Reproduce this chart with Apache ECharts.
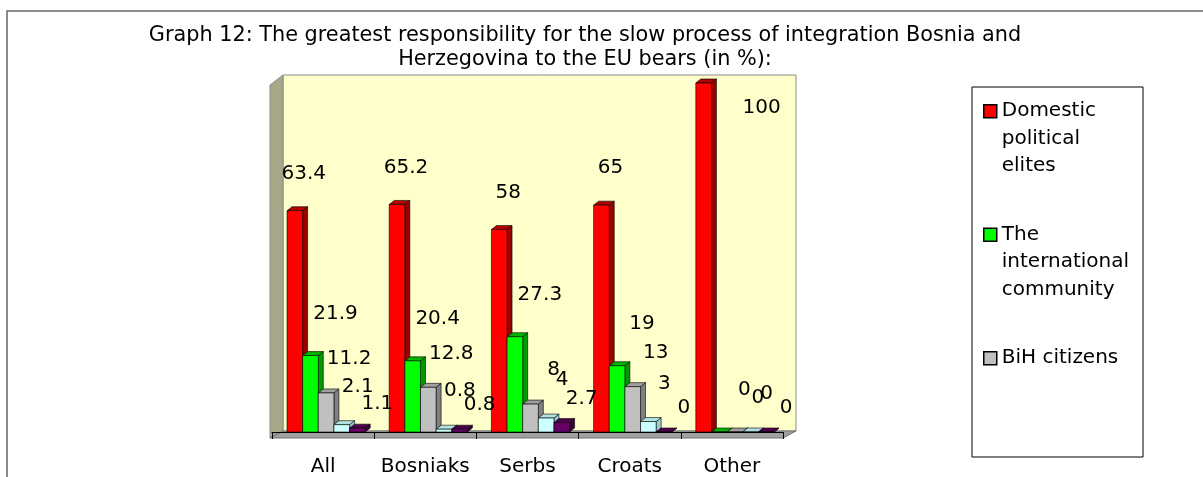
<!DOCTYPE html>
<html>
<head>
<meta charset="utf-8">
<script src="https://cdn.jsdelivr.net/npm/echarts@6/dist/echarts.min.js"></script>
<style>
  html, body { margin: 0; padding: 0; background: #fff; }
  #chart { width: 1203px; height: 477px; }
</style>
</head>
<body>
<div id="chart"></div>
<script>
// data (in %)
const categories = ['All', 'Bosniaks', 'Serbs', 'Croats', 'Other'];
const seriesNames = ['Domestic political elites', 'The international community', 'BiH citizens', 'Others', 'Do not know'];
const domesticElites = [63.4, 65.2, 58, 65, 100];
const internationalCommunity = [21.9, 20.4, 27.3, 19, 0];
const bihCitizens = [11.2, 12.8, 8, 13, 0];
const otherAnswers = [2.1, 0.8, 4, 3, 0];
const noAnswer = [1.1, 0.8, 2.7, 0, 0];

const allValues = [domesticElites, internationalCommunity, bihCitizens, otherAnswers, noAnswer];

// wrapped legend text; blank lines keep the first line level with the icon
const legendText = {
  'Domestic political elites': '\n\nDomestic\npolitical\nelites',
  'The international community': '\n\nThe\ninternational\ncommunity',
  'BiH citizens': '\n\nBiH citizens\n\n'
};

const FONT = '"DejaVu Sans", sans-serif';

// Excel-like 3D column colours
const FRONT = ['#ff0000', '#00ff00', '#c0c0c0', '#ccffff', '#660066'];
const SIDE  = ['#990000', '#009900', '#808080', '#99cccc', '#330033'];
const TOP   = ['#b30000', '#00b300', '#a0a0a0', '#b3e0e0', '#4d004d'];

const DEPTH_X = 5, DEPTH_Y = 4;
const LABEL_DX = [9, 25, 23, 16, 20];
const LABEL_DY = [37, 42, 34, 38, 24];

// grid box
const G = { left: 272, top: 83, width: 511, height: 354 };

// ── bar geometry shared by bars and labels ──────────────────────────
function barBox(api, cat, val, s) {
  const base = api.coord([cat, 0]);
  const top = api.coord([cat, val]);
  const band = api.size([1, 0])[0];
  const w = band * 0.153;
  const x0 = base[0] - 2.5 * w + s * w + 3;
  return { x0, w, top: top[1], base: base[1] };
}

function makeBarSeries(s) {
  return {
    type: 'custom',
    name: seriesNames[s],
    itemStyle: { color: FRONT[s] },
    clip: false,
    z: 2,
    data: allValues[s].map((v, i) => [i, v]),
    encode: { x: 0, y: 1 },
    renderItem(params, api) {
      const b = barBox(api, api.value(0), api.value(1), s);
      const xr = b.x0 + b.w;
      const stroke = { stroke: '#000', lineWidth: 0.6 };
      return {
        type: 'group',
        children: [
          {
            type: 'polygon',
            shape: { points: [[xr, b.top], [xr + DEPTH_X, b.top - DEPTH_Y], [xr + DEPTH_X, b.base - DEPTH_Y], [xr, b.base]] },
            style: Object.assign({ fill: SIDE[s] }, stroke)
          },
          {
            type: 'polygon',
            shape: { points: [[b.x0, b.top], [b.x0 + DEPTH_X, b.top - DEPTH_Y], [xr + DEPTH_X, b.top - DEPTH_Y], [xr, b.top]] },
            style: Object.assign({ fill: TOP[s] }, stroke)
          },
          {
            type: 'rect',
            shape: { x: b.x0, y: b.top, width: b.w, height: b.base - b.top },
            style: Object.assign({ fill: FRONT[s] }, stroke)
          }
        ]
      };
    }
  };
}

// labels sit above all bars, so they get their own series
const labelData = [];
allValues.forEach((arr, s) => arr.forEach((v, i) => labelData.push([i, v, s])));

const labelSeries = {
  type: 'custom',
  name: 'labels',
  clip: false,
  z: 10,
  silent: true,
  data: labelData,
  encode: { x: 0, y: 1 },
  renderItem(params, api) {
    const s = api.value(2);
    const v = api.value(1);
    const b = barBox(api, api.value(0), v, s);
    let x = b.x0 + b.w / 2 + LABEL_DX[s];
    let y = b.top - LABEL_DY[s];
    // Excel pushes labels that would leave the plot down beside the column
    if (y < 100) { y = b.top + 25; x += 49; }
    return {
      type: 'text',
      style: {
        text: String(v), x, y,
        font: '20px ' + FONT,
        fill: '#000',
        align: 'center', verticalAlign: 'middle',
        textAlign: 'center', textVerticalAlign: 'middle'
      }
    };
  }
};

// ── walls, floor, frames ────────────────────────────────────────────
const wallL = 283, wallR = 796, wallT = 75, floorBack = 431, floorFront = 438, sideL = 270;

const graphics = [
  { type: 'rect', shape: { x: 7, y: 11, width: 1240, height: 520 }, style: { fill: 'none', stroke: '#666', lineWidth: 1.5 }, z: -10 },
  { type: 'rect', shape: { x: wallL, y: wallT, width: wallR - wallL, height: floorBack - wallT }, style: { fill: '#ffffcc', stroke: '#8c8c8c', lineWidth: 1 }, z: -5 },
  { type: 'polygon', shape: { points: [[sideL, wallT + 10], [wallL, wallT], [wallL, floorBack], [sideL, floorFront]] }, style: { fill: '#a8a888', stroke: '#8c8c8c', lineWidth: 1 }, z: -5 },
  { type: 'polygon', shape: { points: [[sideL, floorFront], [wallL, floorBack], [wallR, floorBack], [wallR - 13, floorFront]] }, style: { fill: '#a0a0a0', stroke: '#707070', lineWidth: 1 }, z: -5 },
  { type: 'rect', shape: { x: 972, y: 87, width: 171, height: 370 }, style: { fill: '#fff', stroke: '#000', lineWidth: 1 }, z: -5 },
  {
    type: 'text', x: 585, y: 24, z: 5,
    style: {
      text: 'Graph 12: The greatest responsibility for the slow process of integration Bosnia and\nHerzegovina to the EU bears (in %):',
      font: '20.8px ' + FONT, lineHeight: 24, fill: '#000',
      align: 'center', verticalAlign: 'top',
      textAlign: 'center', textVerticalAlign: 'top'
    }
  }
];

const chart = echarts.init(document.getElementById('chart'), null, { renderer: 'canvas' });

chart.setOption({
  backgroundColor: '#fff',
  animation: false,
  graphic: { elements: graphics },
  grid: { left: G.left, top: G.top, width: G.width, height: G.height, containLabel: false },
  xAxis: {
    type: 'category',
    data: categories,
    offset: 3,
    axisLine: { show: true, lineStyle: { color: '#000', width: 1 } },
    axisTick: { show: true, interval: 0, length: 7, lineStyle: { color: '#000' } },
    axisLabel: { interval: 0, fontSize: 20, fontFamily: FONT, color: '#000', margin: 22 },
    splitLine: { show: false }
  },
  yAxis: { type: 'value', min: 0, max: 100, show: false },
  legend: {
    orient: 'vertical',
    left: 983,
    top: 42.5,
    padding: 0,
    itemWidth: 13,
    itemHeight: 13,
    itemGap: -14,
    icon: 'rect',
    selectedMode: false,
    itemStyle: { borderColor: '#000', borderWidth: 1.5 },
    textStyle: { fontSize: 20, fontFamily: FONT, color: '#000', lineHeight: 27.5 },
    formatter: name => legendText[name] || name,
    data: seriesNames.slice(0, 3)
  },
  series: [0, 1, 2, 3, 4].map(makeBarSeries).concat([labelSeries])
});
</script>
</body>
</html>
